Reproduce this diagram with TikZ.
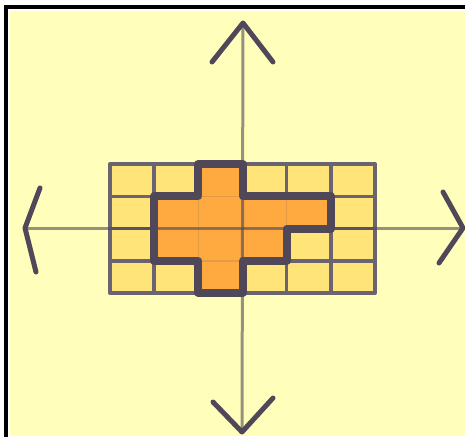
\documentclass[tikz,border=0pt]{standalone}
\usepackage{xcolor}
\usepackage{tikz}
\usetikzlibrary{calc}

\definecolor{paper}{RGB}{255,255,187}
\definecolor{cellyellow}{RGB}{255,228,122}
\definecolor{cellorange}{RGB}{255,170,64}
\definecolor{pencil}{RGB}{80,72,88}

\begin{document}
\begin{tikzpicture}[
  x=1pt, y=-1pt,
  gridline/.style={draw=pencil!85, line width=3.5pt, line cap=round},
  innerline/.style={draw=cellorange!85!pencil, line width=1.5pt},
  outline/.style={draw=pencil, line width=8pt, line join=round},
  axis/.style={draw=pencil, draw opacity=0.6, line width=3pt},
  chevron/.style={draw=pencil, line width=5pt, line cap=round, line join=round}
]
\useasboundingbox (0,0) rectangle (465,441);

% Paper and frame
\fill[paper] (10,11) rectangle (465,436);
\fill[black] (4,5) rectangle (465,9);
\fill[black] (4,5) rectangle (8,437);

% Axis end points
\coordinate (west) at (25,228);
\coordinate (east) at (463,228);
\coordinate (north) at (243,23);
\coordinate (south) at (242,432);

% Grid of 6 x 4 cells with the orange shape
\begin{scope}[shift={(110,164)}, x=44.17pt, y=-32.25pt]
  \fill[cellyellow] (0,0) rectangle (6,4);
  \foreach \c in {0,...,6} \draw[gridline] (\c,0) -- (\c,4);
  \foreach \r in {0,...,4} \draw[gridline] (0,\r) -- (6,\r);
  \fill[cellorange] (2,0) -- (3,0) -- (3,1) -- (5,1) -- (5,2) -- (4,2) -- (4,3)
    -- (3,3) -- (3,4) -- (2,4) -- (2,3) -- (1,3) -- (1,1) -- (2,1) -- cycle;
  \draw[innerline] (1,2) -- (4,2) (2,1) -- (4,1) (2,3) -- (3,3) (2,1) -- (2,3) (3,1) -- (3,3) (4,1) -- (4,2);
\end{scope}

% Axes
\draw[axis] (west) -- (east);
\draw[axis] (north) -- (south);

% Outline of the shape
\begin{scope}[shift={(110,164)}, x=44.17pt, y=-32.25pt]
  \draw[outline] (2,0) -- (3,0) -- (3,1) -- (5,1) -- (5,2) -- (4,2) -- (4,3)
    -- (3,3) -- (3,4) -- (2,4) -- (2,3) -- (1,3) -- (1,1) -- (2,1) -- cycle;
\end{scope}

% Arrow heads
\draw[chevron] ($(west)+(15,-40)$) -- (west) -- ($(west)+(11,44)$);
\draw[chevron] ($(east)+(-20,-36)$) -- (east) -- ($(east)+(-24,35)$);
\draw[chevron] ($(north)+(-31,39)$) -- (north) -- ($(north)+(30,39)$);
\draw[chevron] ($(south)+(-29,-30)$) -- (south) -- ($(south)+(31,-34)$);

\end{tikzpicture}
\end{document}
